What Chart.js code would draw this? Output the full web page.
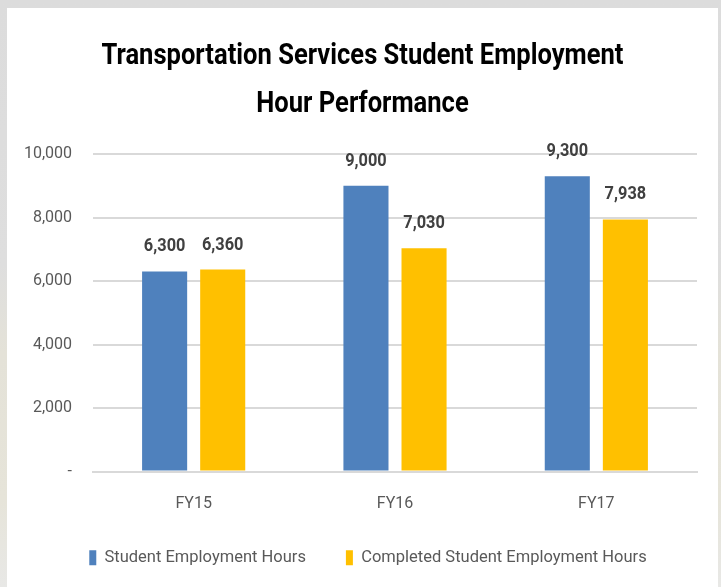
<!DOCTYPE html>
<html>
<head>
<meta charset="utf-8">
<script src="https://cdn.jsdelivr.net/npm/chart.js@4"></script>
<style>
  html, body { margin: 0; padding: 0; }
  body {
    width: 721px; height: 587px; overflow: hidden;
    background: linear-gradient(to bottom, #dcdcdc 0%, #dedede 45%, #e4e2d8 60%, #e6e4d9 85%, #e8e8e6 100%);
    position: relative;
  }
  #panel {
    position: absolute; left: 7px; top: 8px; width: 711px; height: 579px;
    background: #ffffff; overflow: hidden;
  }
  canvas { display: block; }
</style>
</head>
<body>
<div id="panel"><canvas id="c" width="711" height="600"></canvas></div>
<script>
const categories = ["FY15", "FY16", "FY17"];
const seriesNames = ["Student Employment Hours", "Completed Student Employment Hours"];
const scheduledHours = [6300, 9000, 9300];
const completedHours = [6360, 7030, 7938];
const titleLines = ["Transportation Services Student Employment", "Hour Performance"];
const yTickValues = [0, 2000, 4000, 6000, 8000, 10000];

const FONT = 'Roboto, "Liberation Sans", sans-serif';

const fmt = v => v === 0 ? "-" : v.toLocaleString("en-US");

// Title drawn with a condensed look (Calibri-like width)
const condensedTitle = {
  id: "condensedTitle",
  afterDraw(chart) {
    const ctx = chart.ctx;
    ctx.save();
    ctx.font = "bold 29px " + FONT;
    ctx.fillStyle = "#000000";
    ctx.textAlign = "center";
    ctx.textBaseline = "alphabetic";
    const w0 = ctx.measureText(titleLines[0]).width;
    const sx = 522 / w0;
    const cx = chart.width / 2;
    const baselines = [55.5, 103.5];
    titleLines.forEach((line, i) => {
      ctx.save();
      ctx.translate(cx, baselines[i]);
      ctx.scale(sx, 1);
      ctx.fillText(line, 0, 0);
      ctx.restore();
    });
    ctx.restore();
  }
};

const valueLabels = {
  id: "valueLabels",
  afterDatasetsDraw(chart) {
    const ctx = chart.ctx;
    ctx.save();
    ctx.font = "bold 19px " + FONT;
    ctx.fillStyle = "#404040";
    ctx.textAlign = "center";
    ctx.textBaseline = "alphabetic";
    chart.data.datasets.forEach((ds, i) => {
      const meta = chart.getDatasetMeta(i);
      meta.data.forEach((bar, j) => {
        ctx.save();
        ctx.translate(bar.x, bar.y - 20);
        ctx.scale(0.86, 1);
        ctx.fillText(fmt(ds.data[j]), 0, 0);
        ctx.restore();
      });
    });
    ctx.restore();
  }
};

// nudge the legend block to the right, as in the original
const legendShift = {
  id: "legendShift",
  afterLayout(chart) {
    if (chart.legend) {
      chart.legend.left += 16;
      chart.legend.right += 16;
    }
  }
};

new Chart(document.getElementById("c"), {
  type: "bar",
  data: {
    labels: categories,
    datasets: [
      { label: seriesNames[0], data: scheduledHours, backgroundColor: "#4f81bd",
        barPercentage: 0.776, categoryPercentage: 0.577 },
      { label: seriesNames[1], data: completedHours, backgroundColor: "#ffc000",
        barPercentage: 0.776, categoryPercentage: 0.577 }
    ]
  },
  options: {
    responsive: false,
    animation: false,
    devicePixelRatio: 1,
    layout: { padding: { left: 0, right: 21, top: 146, bottom: 32 } },
    plugins: {
      title: { display: false },
      legend: {
        position: "bottom",
        labels: {
          color: "#595959",
          font: { family: FONT, size: 16.5 },
          boxWidth: 7, boxHeight: 15,
          padding: 40
        }
      },
      tooltip: { enabled: false }
    },
    scales: {
      x: {
        afterFit(scale) { scale.height = 38; },
        grid: { display: false },
        border: { display: true, color: "#d9d9d9", width: 2 },
        ticks: { color: "#595959", font: { family: FONT, size: 16 }, padding: 15 }
      },
      y: {
        min: 0, max: 10000,
        afterBuildTicks(scale) { scale.ticks = yTickValues.map(v => ({ value: v })); },
        afterFit(scale) { scale.width = 86; },
        grid: { color: "#d9d9d9", lineWidth: 2, drawTicks: false },
        border: { display: false },
        ticks: { color: "#595959", font: { family: FONT, size: 16 }, padding: 21,
                 callback: v => fmt(v) }
      }
    }
  },
  plugins: [valueLabels, condensedTitle, legendShift]
});
</script>
</body>
</html>
